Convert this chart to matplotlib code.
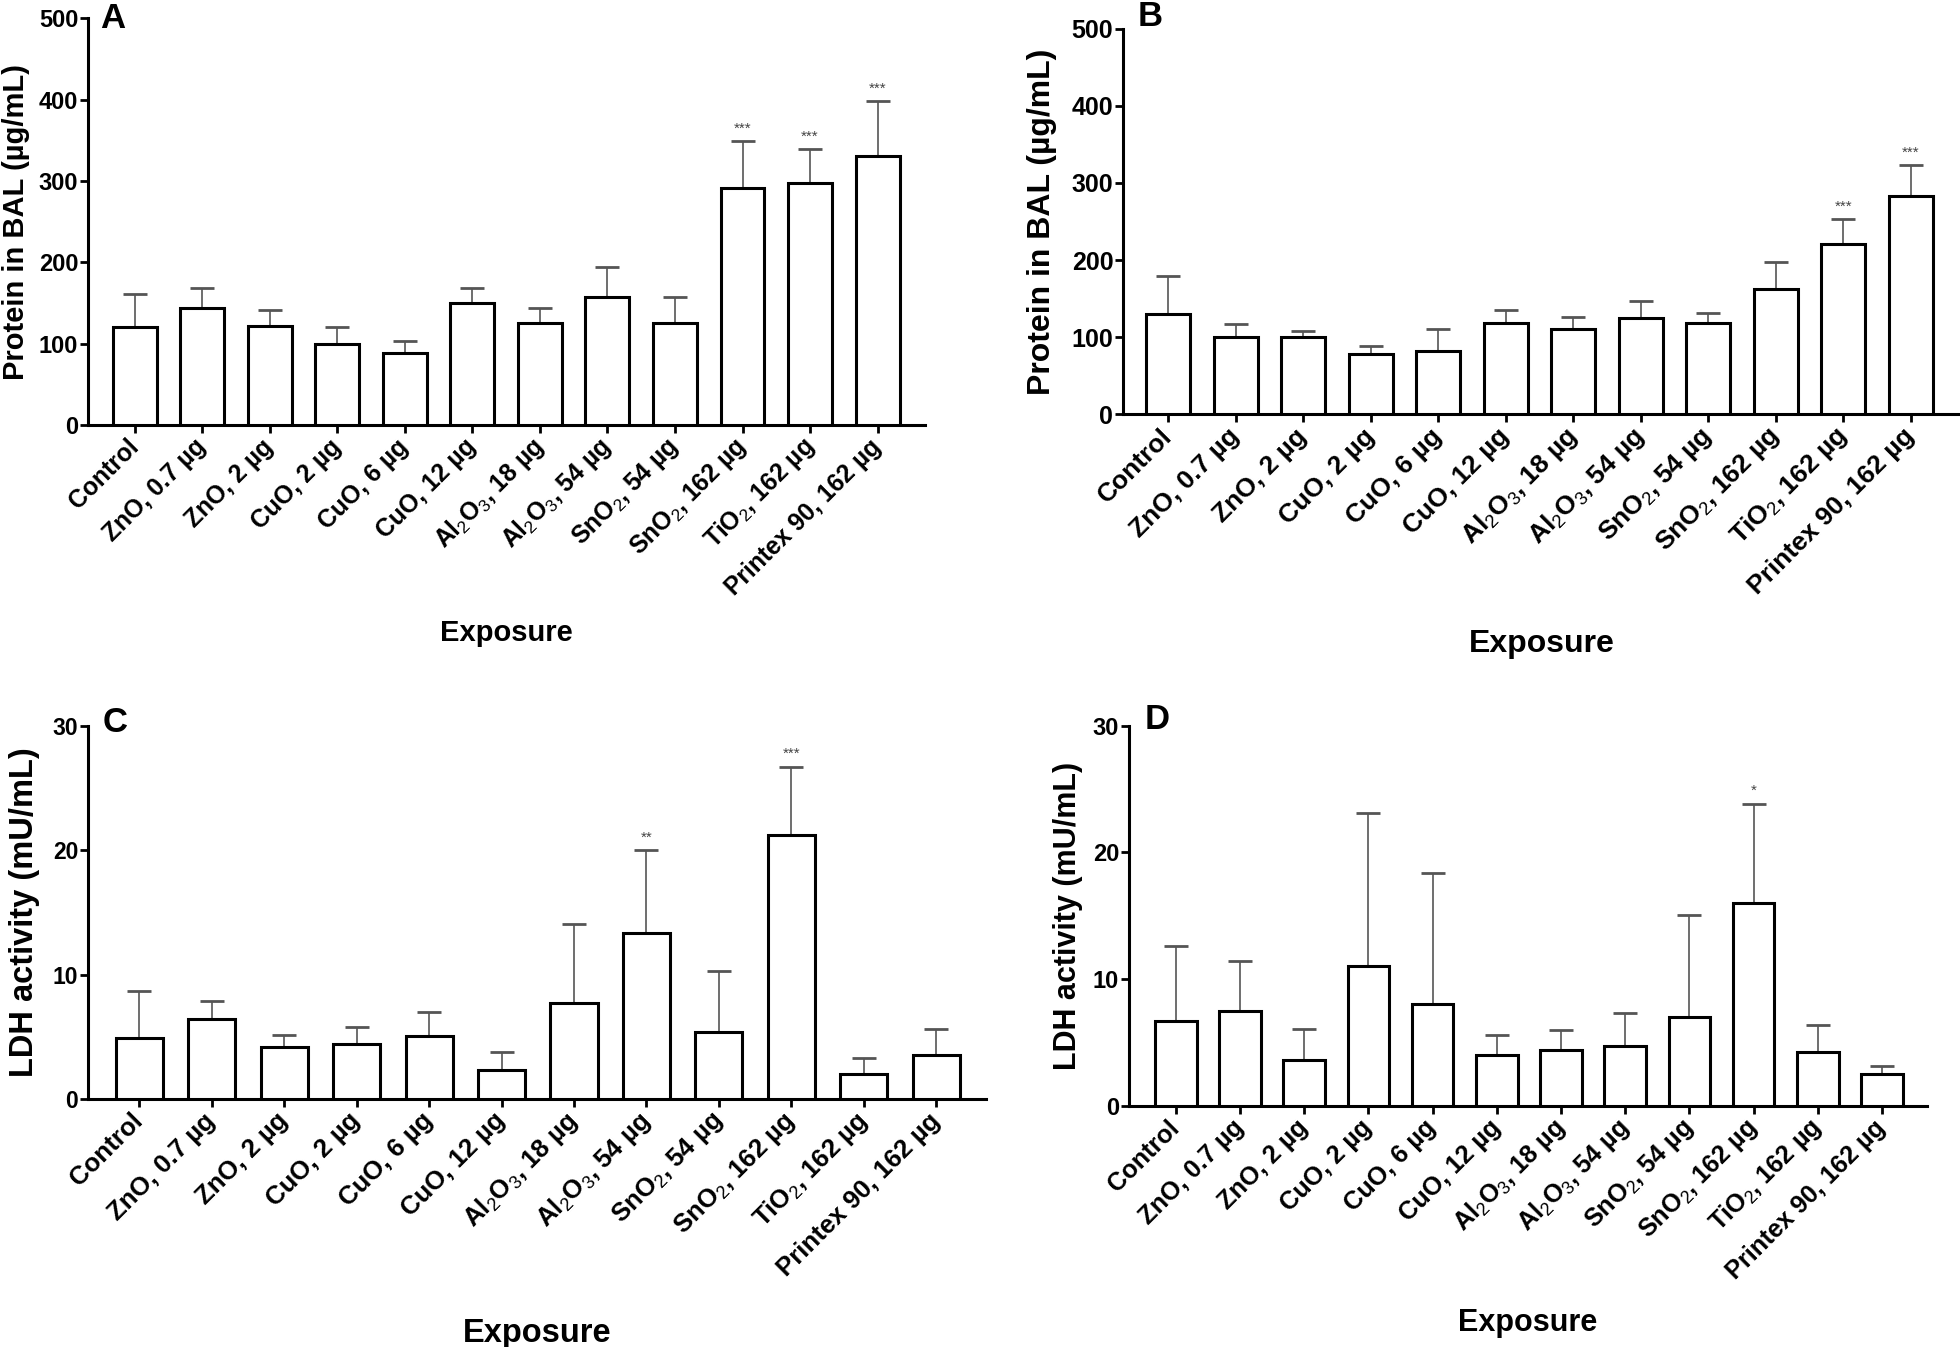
import matplotlib
matplotlib.use("Agg")
import matplotlib.pyplot as plt
import numpy as np

plt.rcParams['font.family'] = 'Liberation Sans'
plt.rcParams['mathtext.fontset'] = 'custom'
plt.rcParams['mathtext.rm'] = 'Liberation Sans'
plt.rcParams['mathtext.it'] = 'Liberation Sans:italic'
plt.rcParams['mathtext.bf'] = 'Liberation Sans:bold'

exposures = ['Control', 'ZnO, 0.7 µg', 'ZnO, 2 µg', 'CuO, 2 µg', 'CuO, 6 µg',
             'CuO, 12 µg', r'Al$_2$O$_3$, 18 µg', r'Al$_2$O$_3$, 54 µg',
             r'SnO$_2$, 54 µg', r'SnO$_2$, 162 µg', r'TiO$_2$, 162 µg',
             'Printex 90, 162 µg']

# protein in BAL (ug/mL), bar height and top of error bar
protein_a = [121, 144, 122, 100, 89, 150, 126, 158, 126, 292, 298, 331]
protein_a_err = [161, 168, 142, 120, 103, 168, 144, 194, 157, 349, 339, 398]
protein_b = [130, 101, 101, 78, 82, 118, 111, 125, 118, 163, 221, 283]
protein_b_err = [180, 117, 108, 89, 111, 135, 126, 147, 131, 198, 253, 323]

# LDH activity (mU/mL)
ldh_c = [4.9, 6.4, 4.2, 4.4, 5.05, 2.3, 7.75, 13.3, 5.4, 21.2, 2.0, 3.5]
ldh_c_err = [8.7, 7.9, 5.15, 5.8, 7.0, 3.8, 14.1, 20.0, 10.3, 26.7, 3.3, 5.65]
ldh_d = [6.7, 7.5, 3.6, 11.05, 8.05, 4.05, 4.4, 4.7, 7.0, 16.05, 4.25, 2.5]
ldh_d_err = [12.6, 11.4, 6.1, 23.1, 18.35, 5.6, 6.0, 7.3, 15.05, 23.85, 6.4, 3.15]

stars_a = [''] * 9 + ['***', '***', '***']
stars_b = [''] * 10 + ['***', '***']
stars_c = [''] * 7 + ['**', '', '***', '', '']
stars_d = [''] * 9 + ['*', '', '']

fig = plt.figure(figsize=(19.6, 13.47), dpi=100)


def draw_panel(rect, xlim, means, tops, stars, ylim, yticks, ylabel, letter,
               letter_xy, ylab_x, xlab_y, xfs, yfs, lfs):
    ax = fig.add_axes(rect)
    x = np.arange(len(means))
    means = np.array(means)
    tops = np.array(tops)
    ax.errorbar(x, means, yerr=[np.zeros(len(x)), tops - means], fmt='none',
                ecolor='#555555', elinewidth=1.2, capsize=8.5, capthick=2.0,
                zorder=2)
    ax.bar(x, means, width=0.65, color='white', edgecolor='black',
           linewidth=2.2, zorder=3)
    for xi, t, s in zip(x, tops, stars):
        if s:
            ax.annotate(s, (xi, t), xytext=(0, 4), textcoords='offset points',
                        ha='center', va='bottom', fontsize=11, color='#444444')
    ax.set_xlim(xlim)
    ax.set_ylim(ylim)
    ax.set_yticks(yticks)
    ax.set_xticks(x)
    ax.set_xticklabels(exposures, rotation=45, ha='right', va='center',
                       rotation_mode='anchor', fontsize=xfs, fontweight='bold')
    for lab in ax.get_yticklabels():
        lab.set_fontsize(yfs)
        lab.set_fontweight('bold')
    ax.tick_params(axis='y', length=6, width=2, pad=1)
    ax.tick_params(axis='x', length=6, width=2, pad=7)
    for side in ['top', 'right']:
        ax.spines[side].set_visible(False)
    for side in ['left', 'bottom']:
        ax.spines[side].set_linewidth(2.2)
    ax.set_ylabel(ylabel, fontsize=lfs, fontweight='bold')
    ax.yaxis.set_label_coords(ylab_x, 0.5)
    ax.set_xlabel('Exposure', fontsize=lfs, fontweight='bold')
    ax.xaxis.set_label_coords(0.5, xlab_y)
    ax.text(letter_xy[0], letter_xy[1], letter, transform=ax.transAxes,
            fontsize=25, fontweight='bold', ha='center', va='center')
    return ax


draw_panel([0.0449, 0.6845, 0.4270, 0.3018], (-0.69, 11.70), protein_a,
           protein_a_err, stars_a, (0, 500), [0, 100, 200, 300, 400, 500],
           'Protein in BAL (µg/mL)', 'A', (0.029, 1.0), -0.069, -0.478,
           17.8, 17, 21)
draw_panel([0.5730, 0.6923, 0.4270, 0.2865], (-0.67, 11.73), protein_b,
           protein_b_err, stars_b, (0, 500), [0, 100, 200, 300, 400, 500],
           'Protein in BAL (µg/mL)', 'B', (0.032, 1.031), -0.079, -0.556,
           19, 18, 23)
draw_panel([0.0449, 0.1841, 0.4582, 0.2772], (-0.71, 11.69), ldh_c,
           ldh_c_err, stars_c, (0, 30), [0, 10, 20, 30],
           'LDH activity (mU/mL)', 'C', (0.030, 1.008), -0.053, -0.587,
           18.6, 16.5, 23.5)
draw_panel([0.5760, 0.1789, 0.4071, 0.2824], (-0.73, 11.70), ldh_d,
           ldh_d_err, stars_d, (0, 30), [0, 10, 20, 30],
           'LDH activity (mU/mL)', 'D', (0.035, 1.017), -0.058, -0.531,
           18.2, 17, 22)

fig.savefig('out.png', dpi=100)
